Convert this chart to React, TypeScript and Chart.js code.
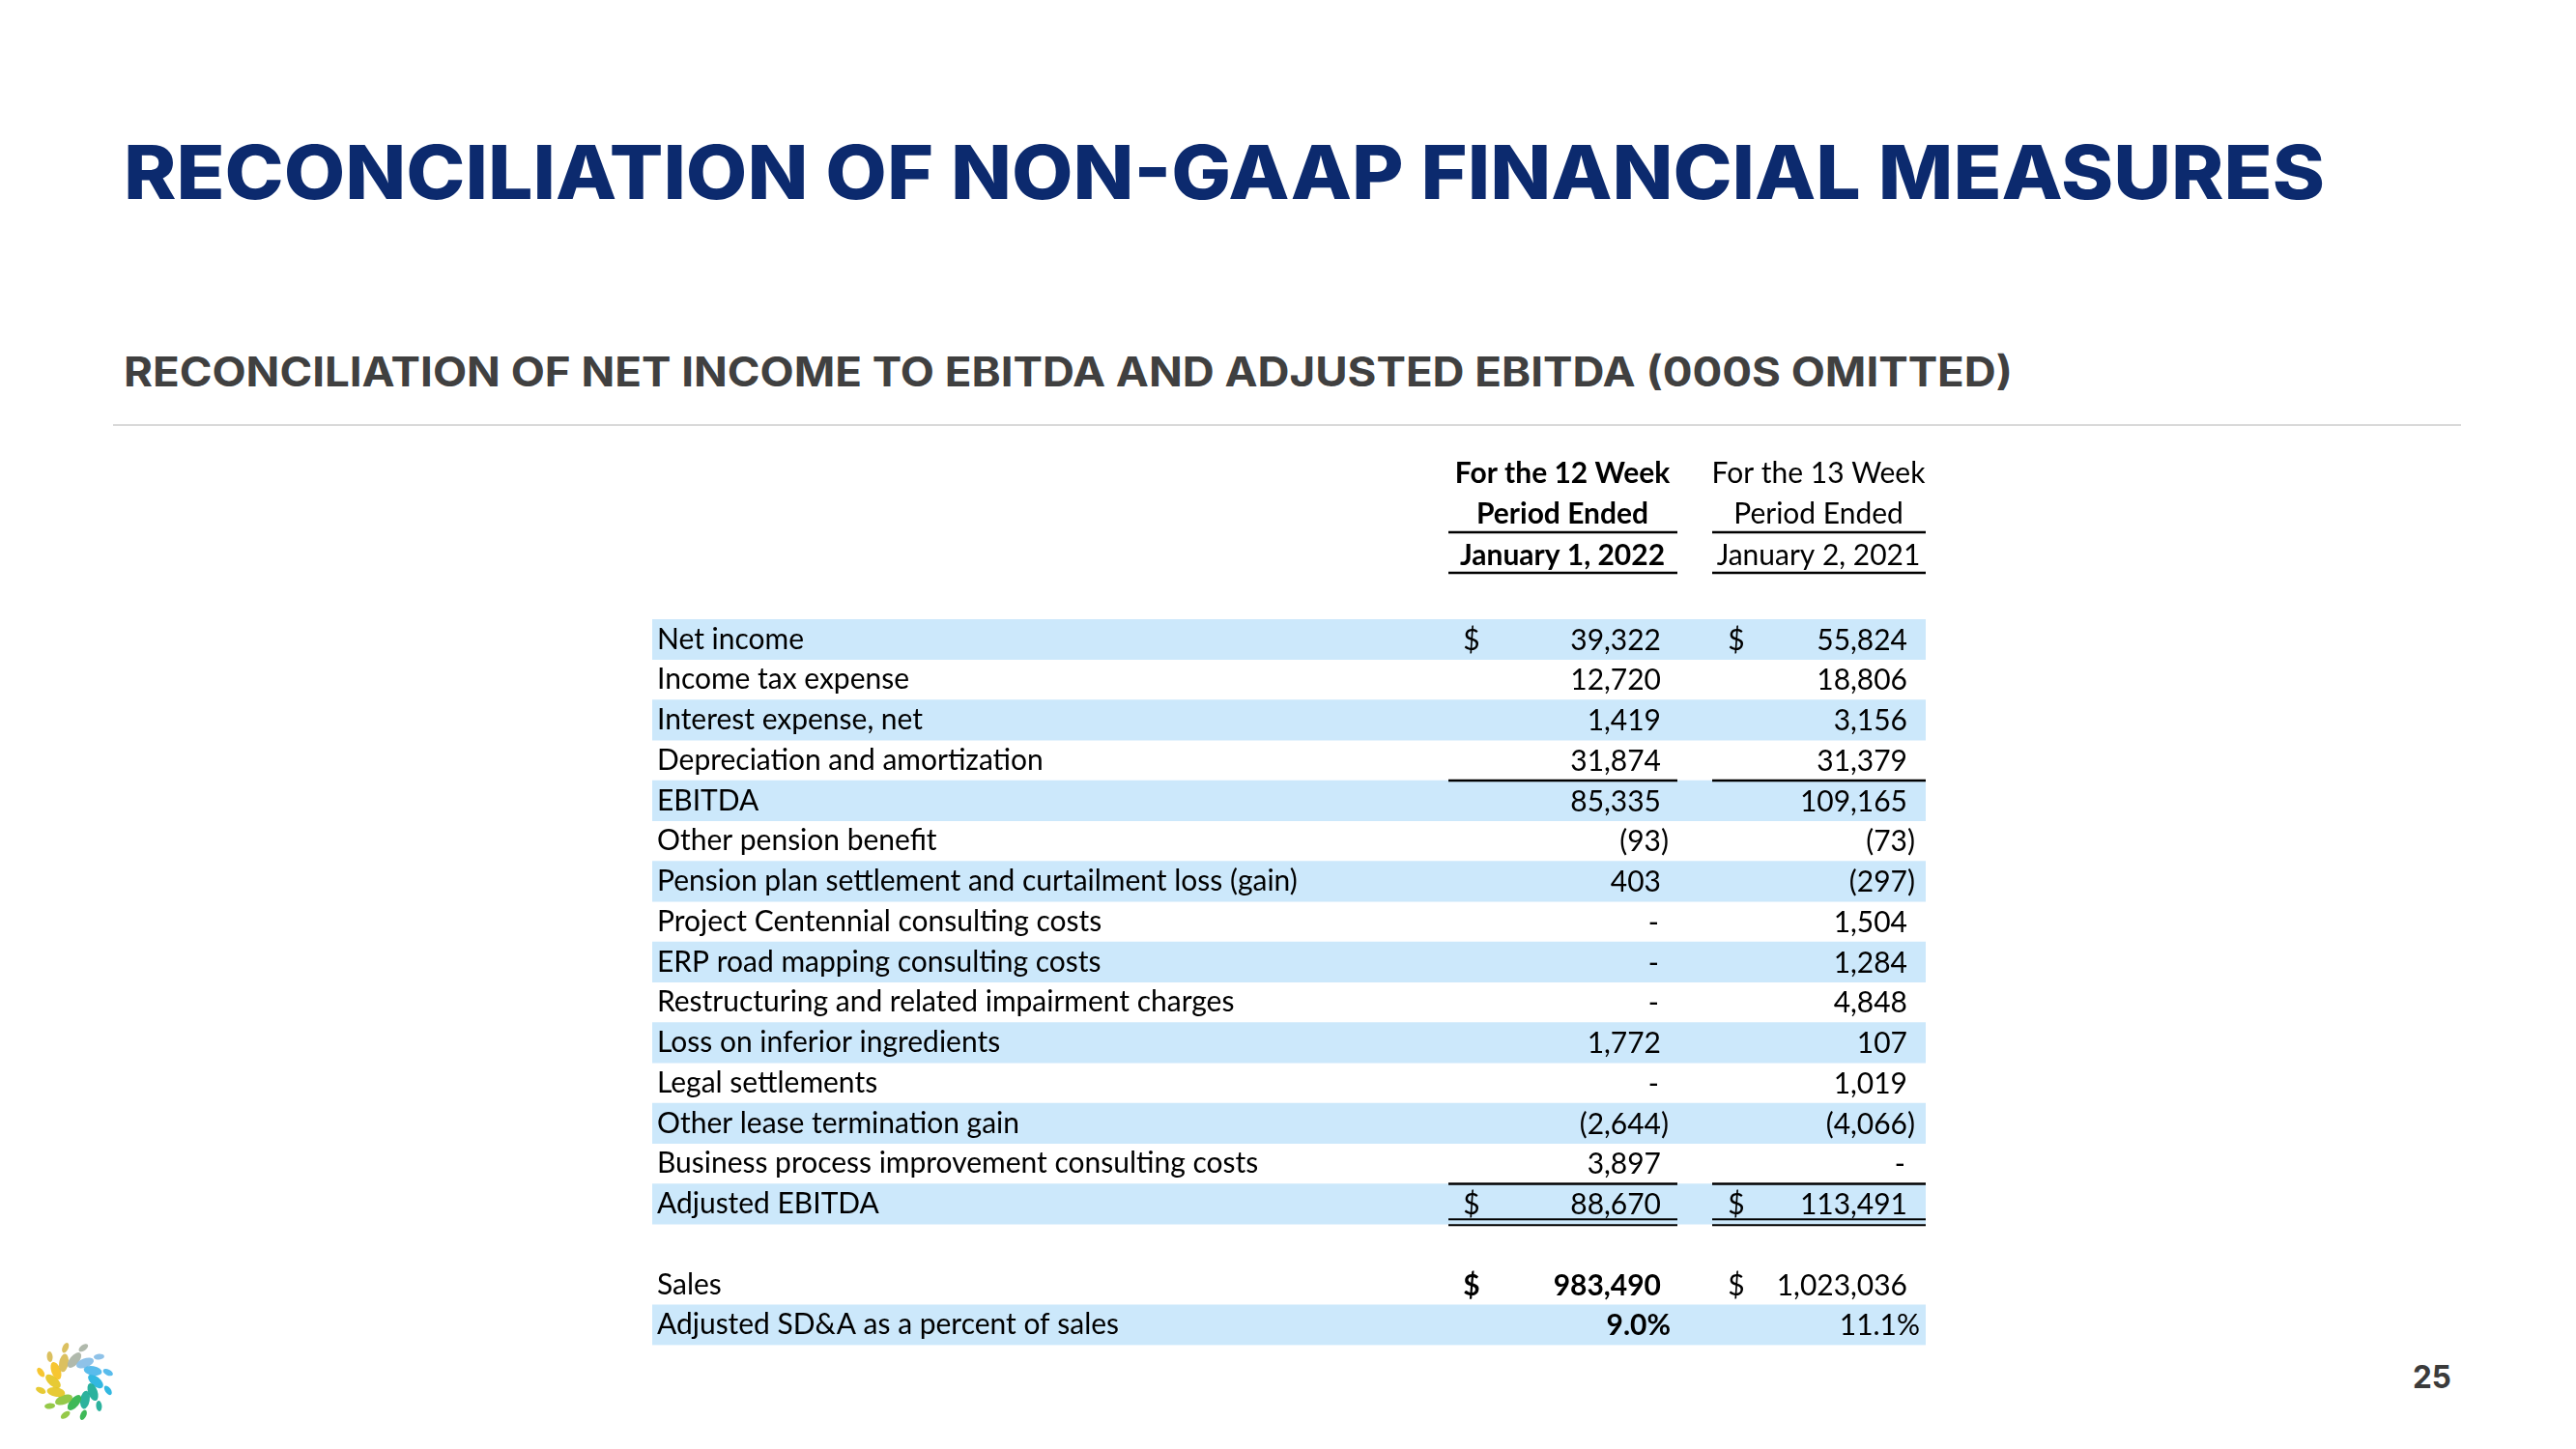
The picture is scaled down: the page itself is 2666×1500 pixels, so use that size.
import React, { useEffect, useRef } from 'react';
import { Chart, registerables } from 'chart.js';

Chart.register(...registerables);

// ---------- data ----------
const rowLabels = [
  'Net income',
  'Income tax expense',
  'Interest expense, net',
  'Depreciation and amortization',
  'EBITDA',
  'Other pension benefit',
  'Pension plan settlement and curtailment loss (gain)',
  'Project Centennial consulting costs',
  'ERP road mapping consulting costs',
  'Restructuring and related impairment charges',
  'Loss on inferior ingredients',
  'Legal settlements',
  'Other lease termination gain',
  'Business process improvement consulting costs',
  'Adjusted EBITDA',
  '',
  'Sales',
  'Adjusted SD&A as a percent of sales',
];
const period2022 = [39322, 12720, 1419, 31874, 85335, -93, 403, 0, 0, 0, 1772, 0, -2644, 3897, 88670, null, 983490, 9.0];
const period2021 = [55824, 18806, 3156, 31379, 109165, -73, -297, 1504, 1284, 4848, 107, 1019, -4066, 0, 113491, null, 1023036, 11.1];
const dollarRows = [0, 14, 16];
const percentRows = [17];
const shadedRows = [0, 2, 4, 6, 8, 10, 12, 14, 17];
const boldRows2022 = [16, 17];
const header2022 = ['For the 12 Week', 'Period Ended', 'January 1, 2022'];
const header2021 = ['For the 13 Week', 'Period Ended', 'January 2, 2021'];
const titleText = 'RECONCILIATION OF NON-GAAP FINANCIAL MEASURES';
const subtitleText = 'RECONCILIATION OF NET INCOME TO EBITDA AND ADJUSTED EBITDA (000S OMITTED)';
const pageNumber = '25';

// ---------- styling ----------
const SHADE = '#cce8fb';
const FAMILY = 'Lato';

function fmtNum(v: number) {
  return Math.abs(v).toLocaleString('en-US');
}

const columns = [
  { values: period2022, header: header2022, headerBold: true, boldRows: boldRows2022, dollarX: 1523, right: 1719, pctRight: 1729, lineL: 1499, lineR: 1736, center: 1617 },
  { values: period2021, header: header2021, headerBold: false, boldRows: [] as number[], dollarX: 1797, right: 1974, pctRight: 1987, lineL: 1772, lineR: 1993, center: 1882 },
];

const tablePlugin = {
  id: 'tableText',
  afterDraw(chart: any) {
    const ctx = chart.ctx as CanvasRenderingContext2D;
    const ys = chart.scales.y;
    const fs = chart.options.plugins.tableText.fontSize as number;
    const font = (b: boolean) => `${b ? 'bold ' : ''}${fs}px ${FAMILY}`;
    const rowY = (i: number) => ys.getPixelForValue(i);
    const half = (rowY(1) - rowY(0)) / 2;

    ctx.save();
    ctx.fillStyle = '#000';
    ctx.strokeStyle = '#000';
    ctx.textBaseline = 'middle';

    const hline = (x1: number, x2: number, y: number, w = 2.5) => {
      ctx.lineWidth = w;
      ctx.beginPath();
      ctx.moveTo(x1, y);
      ctx.lineTo(x2, y);
      ctx.stroke();
    };

    const headerY = [490, 532, 575];
    columns.forEach((col) => {
      ctx.font = font(col.headerBold);
      ctx.textAlign = 'center';
      col.header.forEach((t, k) => ctx.fillText(t, col.center, headerY[k]));
      hline(col.lineL, col.lineR, 551);
      hline(col.lineL, col.lineR, 593);

      col.values.forEach((v, i) => {
        if (v === null || v === undefined) return;
        const bold = col.boldRows.includes(i);
        ctx.font = font(bold);
        const parenW = ctx.measureText(')').width;
        const y = rowY(i) + 1;
        if (dollarRows.includes(i)) {
          ctx.textAlign = 'center';
          ctx.fillText('$', col.dollarX, y);
        }
        ctx.textAlign = 'right';
        if (percentRows.includes(i)) {
          ctx.fillText(v.toFixed(1) + '%', col.pctRight, y);
        } else if (v === 0) {
          ctx.fillText('-', col.right - 2, y);
        } else if (v < 0) {
          ctx.fillText('(' + fmtNum(v) + ')', col.right + parenW, y);
        } else {
          ctx.fillText(fmtNum(v), col.right, y);
        }
      });

      hline(col.lineL, col.lineR, rowY(4) - half);
      hline(col.lineL, col.lineR, rowY(14) - half);
      hline(col.lineL, col.lineR, rowY(14) + half - 5, 2);
      hline(col.lineL, col.lineR, rowY(14) + half + 1, 2);
    });
    ctx.restore();
  },
};

function fitFontSize(text: string, target: number, weight = 'normal') {
  const c = document.createElement('canvas').getContext('2d')!;
  c.font = `${weight} 100px ${FAMILY}`;
  return (100 * target) / c.measureText(text).width;
}

function Logo({ cx, cy }: { cx: number; cy: number }) {
  const stops: [number, string][] = [
    [0, '#22b2de'],
    [40, '#1aab95'],
    [80, '#2fb34a'],
    [120, '#8cc43a'],
    [160, '#e5c624'],
    [200, '#f6c11f'],
    [240, '#d8bb52'],
    [275, '#a9b3a5'],
    [310, '#86bde6'],
    [340, '#4bb6ea'],
    [360, '#22b2de'],
  ];
  const colorAt = (a: number) => {
    const ang = ((a % 360) + 360) % 360;
    let best = stops[0][1];
    let d = 999;
    stops.forEach(([s, c]) => {
      const dd = Math.abs(s - ang);
      if (dd < d) { d = dd; best = c; }
    });
    return best;
  };
  const petals: JSX.Element[] = [];
  for (let k = 0; k < 12; k++) {
    const a = k * 30;
    const r = (a * Math.PI) / 180;
    const ix = cx + 22 * Math.cos(r);
    const iy = cy + 22 * Math.sin(r);
    petals.push(
      <ellipse key={'i' + k} cx={ix} cy={iy} rx={9.5} ry={4.8} fill={colorAt(a)} opacity={0.92}
        transform={`rotate(${a + 40} ${ix} ${iy})`} />
    );
    const a2 = a + 15;
    const r2 = (a2 * Math.PI) / 180;
    const ox = cx + 36 * Math.cos(r2);
    const oy = cy + 36 * Math.sin(r2);
    petals.push(
      <ellipse key={'o' + k} cx={ox} cy={oy} rx={5.5} ry={3} fill={colorAt(a2)} opacity={0.92}
        transform={`rotate(${a2 + 40} ${ox} ${oy})`} />
    );
  }
  return <g>{petals}</g>;
}

export default function App() {
  const canvasRef = useRef<HTMLCanvasElement | null>(null);

  useEffect(() => {
    const canvas = canvasRef.current;
    if (!canvas) return;
    const fontSize = fitFontSize('Pension plan settlement and curtailment loss (gain)', 663);
    const chart = new Chart(canvas, {
      type: 'bar',
      data: {
        labels: rowLabels,
        datasets: [
          {
            label: 'shading',
            data: rowLabels.map((_, i) => (shadedRows.includes(i) ? [0, 1] : null)) as any,
            backgroundColor: SHADE,
            borderWidth: 0,
            barPercentage: 1,
            categoryPercentage: 1,
          },
        ],
      },
      options: {
        indexAxis: 'y',
        responsive: false,
        animation: false,
        layout: { padding: { left: 670, right: 673, top: 641, bottom: 107.5 } },
        scales: {
          x: { display: false, min: 0, max: 1 },
          y: {
            position: 'left',
            grid: { display: false },
            border: { display: false },
            afterFit: (s: any) => { s.width = 5; },
            ticks: {
              mirror: true,
              padding: 5,
              z: 1,
              color: '#000',
              font: { family: FAMILY, size: fontSize },
            },
          } as any,
        },
        plugins: {
          legend: { display: false },
          tooltip: { enabled: false },
          tableText: { fontSize },
        } as any,
      },
      plugins: [tablePlugin],
    });
    return () => chart.destroy();
  }, []);

  return (
    <div style={{ position: 'fixed', left: 0, top: 0, width: 2666, height: 1500, background: '#fff', overflow: 'hidden' }}>
      <svg width={2666} height={1500} style={{ position: 'absolute', left: 0, top: 0 }}>
        <text x={128} y={206} fontFamily="Inter" fontWeight={800} fontSize={77} fill="#0c2a6e"
          textLength={2278} lengthAdjust="spacingAndGlyphs">{titleText}</text>
        <text x={128} y={400} fontFamily="Inter" fontWeight={700} fontSize={42} fill="#404040"
          textLength={1955} lengthAdjust="spacingAndGlyphs">{subtitleText}</text>
        <line x1={117} x2={2547} y1={440} y2={440} stroke="#d9d9d9" strokeWidth={2} />
        <text x={2497} y={1437} fontFamily="Inter" fontWeight={700} fontSize={33} fill="#3b3b3b"
          textLength={40} lengthAdjust="spacingAndGlyphs">{pageNumber}</text>
        <Logo cx={77} cy={1430} />
      </svg>
      <canvas ref={canvasRef} width={2666} height={1500} style={{ position: 'absolute', left: 0, top: 0 }} />
    </div>
  );
}
